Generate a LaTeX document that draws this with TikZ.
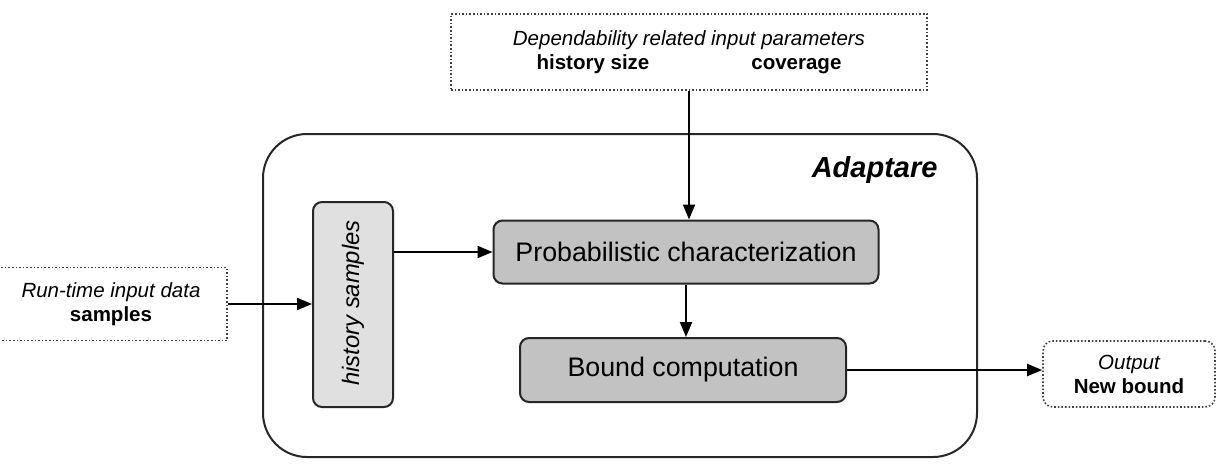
\documentclass[tikz,border=0pt]{standalone}
\usepackage{fontspec}
\setmainfont{Liberation Sans}
\usetikzlibrary{arrows.meta}
\tikzset{
  solidbox/.style={draw=black!85, line width=2pt, rounded corners=9pt, inner sep=0pt},
  dotbox/.style={draw=black!75, line width=1.6pt, dotted, inner sep=0pt, align=center,
    font=\fontsize{20.5}{24}\selectfont},
  conn/.style={line width=2pt, -{Triangle[length=15pt,width=12pt]}},
}
\begin{document}
\begin{tikzpicture}[x=1pt,y=-1pt]
\useasboundingbox (0,0) rectangle (1222,469);
\node[draw=black!85, line width=2pt, rounded corners=44pt, minimum width=714pt, minimum height=323pt] (big) at (620,295.5) {};
\node[anchor=east, font=\fontsize{29}{34}\selectfont\bfseries\itshape] (adlabel) at (941,170) {Adaptare};
\node[dotbox, minimum width=476pt, minimum height=76pt] (top) at (689,52)
  {\itshape Dependability related input parameters\\ \bfseries history size\hspace{102pt}coverage};
\node[solidbox, fill=black!24, minimum width=385pt, minimum height=63pt, font=\fontsize{26.8}{30}\selectfont] (prob) at (686,252) {Probabilistic characterization};
\node[solidbox, fill=black!24, minimum width=326pt, minimum height=64pt, font=\fontsize{26.8}{30}\selectfont] (bound) at (683,370) {Bound computation};
\node[solidbox, fill=black!12, minimum width=80pt, minimum height=205pt] (hist) at (353,304.5) {};
\node[rotate=90, font=\fontsize{23.8}{28}\selectfont\itshape] (histlabel) at (353,303) {history samples};
\node[dotbox, minimum width=232pt, minimum height=73pt] (run) at (111,304)
  {\itshape Run-time input data\\ \bfseries samples};
\node[dotbox, rounded corners=10pt, minimum width=172pt, minimum height=66pt] (out) at (1129,374)
  {\itshape Output\\ \bfseries New bound};
\draw[conn] (top.south) -- (top.south |- prob.north);
\draw[conn] (prob.south) -- (prob.south |- bound.north);
\draw[conn] (prob.west -| hist.east) -- (prob.west);
\draw[conn] (run.east) -- (run.east -| hist.west);
\draw[conn] (bound.east) -- (bound.east -| out.west);
\end{tikzpicture}
\end{document}
